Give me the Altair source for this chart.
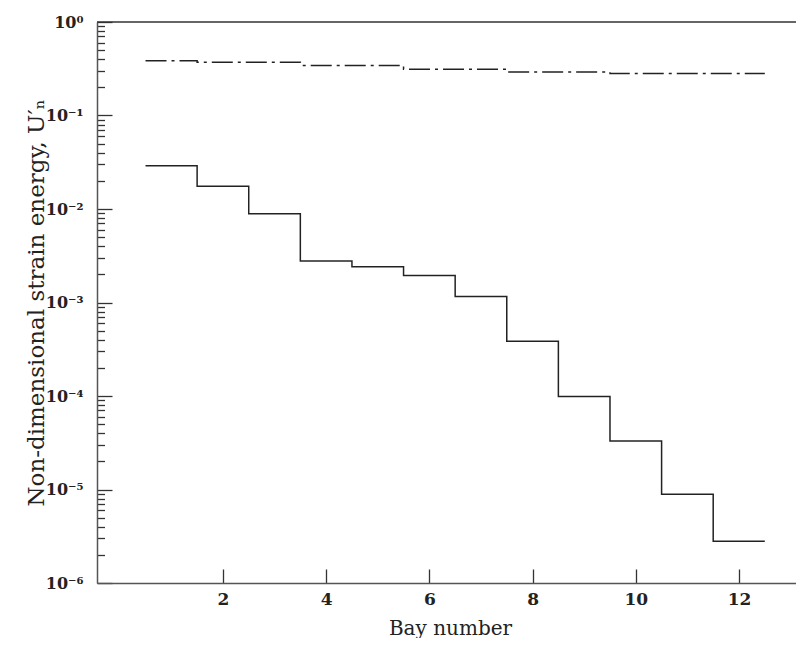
import altair as alt
import pandas as pd

# ---- data ----
bays = [1, 2, 3, 4, 5, 6, 7, 8, 9, 10, 11, 12]
energy_solid = [0.029, 0.0175, 0.0089, 0.00278, 0.00241, 0.00194, 0.00116,
                0.000384, 9.9e-5, 3.3e-5, 8.9e-6, 2.8e-6]
energy_dashdot = [0.386, 0.370, 0.370, 0.343, 0.343, 0.313, 0.313,
                  0.292, 0.292, 0.282, 0.282, 0.282]
series_names = ["solid", "dashdot"]

x_tick_values = [2, 4, 6, 8, 10, 12]
y_decades = [1e-6, 1e-5, 1e-4, 1e-3, 1e-2, 1e-1, 1.0]
y_decade_exps = [-6, -5, -4, -3, -2, -1, 0]
y_decade_labels = ["10⁻⁶", "10⁻⁵", "10⁻⁴", "10⁻³", "10⁻²", "10⁻¹", "10⁰"]
y_minor = [m * d for d in y_decades[:-1] for m in range(2, 10)]

# ---- build step table (each bay spans [n-0.5, n+0.5]) ----
rows = []
for name, vals in zip(series_names, [energy_solid, energy_dashdot]):
    for b, v in zip(bays, vals):
        rows.append({"series": name, "x": b - 0.5, "y": v})
    rows.append({"series": name, "x": bays[-1] + 0.5, "y": vals[-1]})
df = pd.DataFrame(rows)

W_FULL, W, H = 706, 699, 561
FONT = "DejaVu Serif"
INK = "#222222"

exp_expr = "round(log(datum.value)/LN10)"
is_major = f"abs(log(datum.value)/LN10 - {exp_expr}) < 0.01"
nested = "''"
for e, lab in zip(y_decade_exps, y_decade_labels):
    nested = f"({exp_expr} == {e} ? '{lab}' : {nested})"
label_expr = f"{is_major} ? {nested} : ''"

y_axis = alt.Axis(
    orient="left",
    values=sorted(y_decades + y_minor),
    labelExpr=label_expr,
    labelOverlap=False,
    labelFlush=False,
    labelFont=FONT,
    labelFontSize=16,
    labelFontWeight="bold",
    labelColor=INK,
    labelPadding=14,
    labelBaseline="middle",
    ticks=False,
    domain=True,
    domainColor="#555555",
    domainWidth=1.5,
    grid=True,
    gridColor="#333333",
    gridWidth=1.3,
    gridDash={"condition": {"test": is_major, "value": [15, 3000]}, "value": [7.5, 3000]},
    title="Non-dimensional strain energy, U′ₙ",
    titleFont=FONT,
    titleFontSize=23,
    titleFontWeight="normal",
    titleColor=INK,
    titleX=-54,
    titleY=H / 2,
    titleAngle=-90,
    titleAlign="center",
    titleBaseline="alphabetic",
)

x_axis = alt.Axis(
    orient="bottom",
    values=x_tick_values,
    format="d",
    labelFlush=False,
    labelOverlap=False,
    labelFont=FONT,
    labelFontSize=17,
    labelFontWeight="bold",
    labelColor=INK,
    labelPadding=8,
    ticks=False,
    domain=True,
    domainColor="#555555",
    domainWidth=1.5,
    grid=True,
    gridColor="#333333",
    gridWidth=1.3,
    gridDash=[0, H - 14, 14, 3000],
    title="Bay number",
    titleFont=FONT,
    titleFontSize=20,
    titleFontWeight="normal",
    titleColor=INK,
    titleY=51,
    titleBaseline="alphabetic",
)

lines = alt.Chart(df).mark_line(interpolate="step-after", color=INK, strokeWidth=1.5).encode(
    x=alt.X("x:Q", scale=alt.Scale(domain=[-0.44, 13.24], range=[0, W_FULL], nice=False, zero=False), axis=x_axis),
    y=alt.Y("y:Q", scale=alt.Scale(type="log", domain=[1e-6, 1.0], nice=False), axis=y_axis),
    strokeDash=alt.StrokeDash(
        "series:N",
        scale=alt.Scale(domain=series_names, range=[[1, 0], [21, 5, 3, 5]]),
        legend=None,
    ),
    detail="series:N",
)

top_border = alt.Chart().mark_rule(color="#333333", strokeWidth=1.6).encode(
    x=alt.value(0), x2=alt.value(W_FULL), y=alt.value(0)
)

chart = alt.layer(lines, top_border).properties(
    width=W,
    height=H,
    autosize=alt.AutoSizeParams(type="none"),
    padding={"left": 89, "top": 14, "right": 0, "bottom": 55},
).configure_view(stroke=None)

chart.save("out.html", embed_options={"renderer": "svg", "actions": False})
